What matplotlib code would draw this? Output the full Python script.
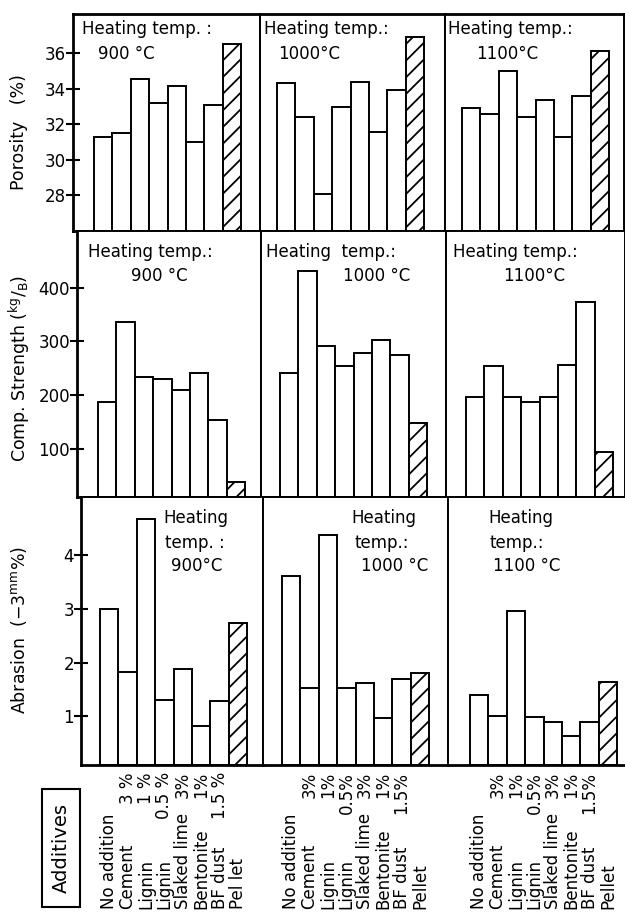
import matplotlib
matplotlib.use("Agg")
import matplotlib.pyplot as plt
from matplotlib.patches import Rectangle

plt.rcParams['font.family'] = ['DejaVu Sans']
plt.rcParams['mathtext.fontset'] = 'dejavusans'
plt.rcParams['hatch.linewidth'] = 1.3

# ---------------- data ----------------
additives_900 = ["No addition", "Cement", "Lignin", "Lignin", "Slaked lime",
                 "Bentonite", "BF dust", "Pel let"]
additives_1000 = ["No addition", "Cement", "Lignin", "Lignin", "Slaked lime",
                  "Bentonite", "BF dust", "Pellet"]
additives_1100 = ["No addition", "Cement", "Lignin", "Lignin", "Slaked lime",
                  "Bentonite", "BF dust", "Pellet"]
doses_900 = ["", "3 %", "1 %", "0.5 %", "3%", "1%", "1.5 %", ""]
doses_1000 = ["", "3%", "1%", "0.5%", "3%", "1%", "1.5%", ""]
doses_1100 = ["", "3%", "1%", "0.5%", "3%", "1%", "1.5%", ""]

porosity_900 = [31.3, 31.5, 34.55, 33.2, 34.15, 31.0, 33.1, 36.5]
porosity_1000 = [34.3, 32.4, 28.1, 32.95, 34.35, 31.55, 33.9, 36.9]
porosity_1100 = [32.9, 32.6, 35.0, 32.4, 33.35, 31.3, 33.6, 36.1]

strength_900 = [188, 337, 233, 230, 210, 242, 153, 38]
strength_1000 = [242, 432, 292, 255, 278, 302, 274, 148]
strength_1100 = [197, 255, 197, 187, 197, 256, 374, 94]

abrasion_900 = [3.0, 1.82, 4.66, 1.31, 1.88, 0.82, 1.29, 2.74]
abrasion_1000 = [3.61, 1.53, 4.36, 1.52, 1.62, 0.98, 1.69, 1.80]
abrasion_1100 = [1.40, 1.0, 2.96, 0.99, 0.90, 0.63, 0.90, 1.63]

porosity_ticks = [28, 30, 32, 34, 36]
strength_ticks = [100, 200, 300, 400]
abrasion_ticks = [1, 2, 3, 4]

ylabels = ["Porosity   (%)",
           r"Comp. Strength ($^{\mathrm{kg}}/_{\mathrm{B}}$)",
           r"Abrasion  (−3$^{\mathrm{mm}}$%)"]

panel_texts = [
    [["Heating temp. :", "900 °C"], ["Heating temp.:", "1000°C"], ["Heating temp.:", "1100°C"]],
    [["Heating temp.:", "900 °C"], ["Heating  temp.:", "1000 °C"], ["Heating temp.:", "1100°C"]],
    [["Heating", "temp. :", "900°C"], ["Heating", "temp.:", "1000 °C"], ["Heating", "temp.:", "1100 °C"]],
]

rows = [
    ([porosity_900, porosity_1000, porosity_1100], (26.0, 38.2), porosity_ticks),
    ([strength_900, strength_1000, strength_1100], (10, 506), strength_ticks),
    ([abrasion_900, abrasion_1000, abrasion_1100], (0.1, 5.07), abrasion_ticks),
]
names = [additives_900, additives_1000, additives_1100]
doses = [doses_900, doses_1000, doses_1100]

# ---------------- layout (pixels) ----------------
W, H = 625, 914
fig = plt.figure(figsize=(W / 100, H / 100), dpi=100)

row_y = [(14, 231), (231, 497), (497, 765)]
col_x = [[73, 260, 445, 624], [77, 261, 446, 625], [81, 263, 448, 627]]
bar_left = [[94, 277, 462], [98, 280, 466], [100, 282, 470]]
unit = 18.4

text_pos = [
    [[(82, 20), (98, 45)], [(264, 20), (278, 45)], [(448, 20), (476, 45)]],
    [[(88, 243), (131, 267)], [(266, 243), (343, 267)], [(453, 243), (503, 267)]],
    [[(163, 509), (165, 534), (171, 557)], [(351, 509), (355, 534), (361, 557)],
     [(488, 509), (490, 534), (493, 557)]],
]


def fx(x):
    return x / W


def fy(y):
    return 1 - y / H


for r, (series, ylim, ticks) in enumerate(rows):
    yt, yb = row_y[r]
    for c in range(3):
        x0, x1 = col_x[r][c], col_x[r][c + 1]
        ax = fig.add_axes([fx(x0), fy(yb), (x1 - x0) / W, (yb - yt) / H])
        left_units = -0.5 - (bar_left[r][c] - x0) / unit
        ax.set_xlim(left_units, left_units + (x1 - x0) / unit)
        ax.set_ylim(*ylim)
        vals = series[c]
        xs = list(range(len(vals)))
        bars = ax.bar(xs, [v - ylim[0] for v in vals], bottom=ylim[0], width=1.0,
                      facecolor='white', edgecolor='black', linewidth=1.4)
        bars[-1].set_hatch('//')
        for s in ax.spines.values():
            s.set_linewidth(1.4)
        if c == 0:
            ax.spines['left'].set_linewidth(2.0)
        ax.spines['top'].set_linewidth(2.0 if r == 0 else 1.4)
        ax.spines['bottom'].set_linewidth(2.0)
        ax.set_xticks([])
        if c == 0:
            ax.set_yticks(ticks)
            ax.set_yticklabels([str(t) for t in ticks], fontsize=12)
            ax.tick_params(axis='y', direction='inout', length=10, width=1.5, pad=0)
        else:
            ax.set_yticks([])
        for txt, (tx, ty) in zip(panel_texts[r][c], text_pos[r][c]):
            fig.text(fx(tx), fy(ty), txt, fontsize=12, ha='left', va='top')

# y labels
ylabel_y = [132, 368, 630]
for lab, yy in zip(ylabels, ylabel_y):
    fig.text(fx(19), fy(yy), lab, rotation=90, fontsize=12.5, ha='center', va='center')

# x labels (rotated) under bottom row
for c in range(3):
    for i, name in enumerate(names[c]):
        xfig = bar_left[2][c] + (i + 0.5) * unit
        fig.text(fx(xfig), fy(909), name, rotation=90, fontsize=12,
                 ha='center', va='bottom')
        if doses[c][i]:
            fig.text(fx(xfig), fy(772), doses[c][i], rotation=90, fontsize=12,
                     ha='center', va='top')

# "Additives" box
fig.patches.append(Rectangle((fx(42), fy(907)), (80 - 42) / W, (907 - 789) / H,
                             transform=fig.transFigure, fill=False,
                             edgecolor='black', linewidth=1.5))
fig.text(fx(61), fy(848), "Additives", rotation=90, fontsize=14,
         ha='center', va='center')

fig.savefig("out.png", dpi=100)
